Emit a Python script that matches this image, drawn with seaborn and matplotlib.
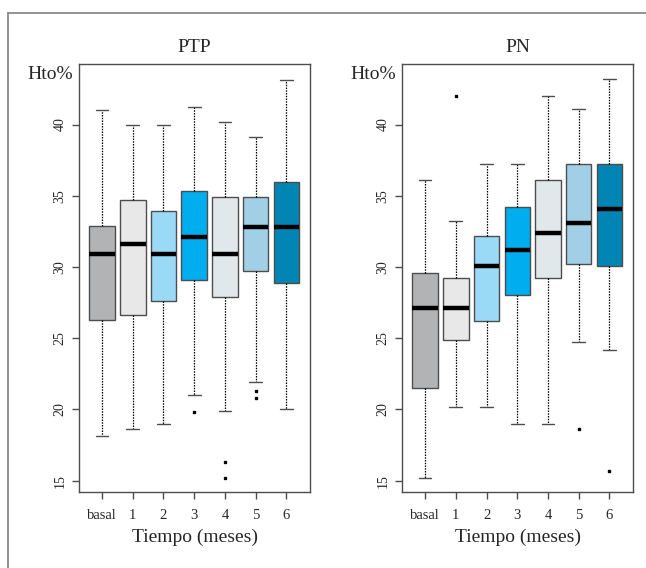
import pandas as pd
import matplotlib
matplotlib.use('Agg')
import matplotlib.pyplot as plt
import seaborn as sns
import numpy as np

# categories (months)
meses = ['basal', '1', '2', '3', '4', '5', '6']
colores = ['#b1b3b5', '#e8e8e8', '#9bdaf6', '#00aeef', '#e1e8ec', '#a0cfe6', '#0085b4']

# PTP five-number summaries
ptp_lo = [18.1, 18.6, 19.0, 21.0, 19.9, 21.9, 20.0]
ptp_q1 = [26.3, 26.6, 27.6, 29.1, 27.9, 29.7, 28.9]
ptp_med = [30.9, 31.6, 30.9, 32.1, 30.9, 32.8, 32.8]
ptp_q3 = [32.9, 34.7, 33.9, 35.3, 34.9, 34.9, 36.0]
ptp_hi = [41.0, 40.0, 40.0, 41.2, 40.2, 39.1, 43.1]
ptp_out = [[], [], [], [19.8], [16.3, 15.2], [21.3, 20.8], []]

# PN
pn_lo = [15.2, 20.2, 20.2, 19.0, 19.0, 24.7, 24.2]
pn_q1 = [21.5, 24.9, 26.2, 28.0, 29.2, 30.2, 30.1]
pn_med = [27.1, 27.1, 30.1, 31.2, 32.4, 33.1, 34.1]
pn_q3 = [29.6, 29.2, 32.2, 34.2, 36.1, 37.2, 37.2]
pn_hi = [36.1, 33.2, 37.2, 37.2, 42.0, 41.1, 43.2]
pn_out = [[], [42.0], [], [], [], [18.6], [15.7]]


def expand(lo, q1, med, q3, hi, out):
    # rebuild a sample whose quartiles/whiskers equal the read summary
    o_lo = sorted([v for v in out if v < med])
    o_hi = sorted([v for v in out if v > med])
    L = len(o_lo) + 1
    H = len(o_hi) + 1
    k = max(L, H)
    return o_lo + [lo] + [q1] * (k - L + 1) + [med] * k + [q3] * k + [hi] * (k - len(o_hi)) + o_hi


def build(lo, q1, med, q3, hi, out):
    rows = []
    for i, m in enumerate(meses):
        for v in expand(lo[i], q1[i], med[i], q3[i], hi[i], out[i]):
            rows.append({'mes': m, 'hto': v})
    return pd.DataFrame(rows)


df_ptp = build(ptp_lo, ptp_q1, ptp_med, ptp_q3, ptp_hi, ptp_out)
df_pn = build(pn_lo, pn_q1, pn_med, pn_q3, pn_hi, pn_out)

sns.set_style('white')
plt.rcParams['font.family'] = ['Liberation Serif', 'DejaVu Serif']

fig = plt.figure(figsize=(6.46, 5.68), dpi=100)
ax1 = fig.add_axes([0.1223, 0.1338, 0.3576, 0.7535])
ax2 = fig.add_axes([0.6223, 0.1338, 0.3578, 0.7535])

# outer frame (top and left only visible)
fig.add_artist(plt.Line2D([8/646, 8/646], [0, 1 - 13/568], color='#808080', lw=1.2))
fig.add_artist(plt.Line2D([8/646, 1], [1 - 13/568, 1 - 13/568], color='#808080', lw=1.2))

for ax, df, titulo in [(ax1, df_ptp, 'PTP'), (ax2, df_pn, 'PN')]:
    sns.boxplot(data=df, x='mes', y='hto', hue='mes', order=meses, hue_order=meses,
                palette=colores, saturation=1, legend=False, width=0.83, whis=1.5,
                linecolor='#4d4d4d', linewidth=1.0, fliersize=2.0, ax=ax,
                medianprops={'color': 'black', 'linewidth': 3.2, 'solid_capstyle': 'butt'},
                whiskerprops={'color': 'black', 'linestyle': (0, (1.2, 1.0)), 'linewidth': 0.9},
                capprops={'color': '#4d4d4d', 'linewidth': 1.0},
                flierprops={'marker': 's', 'markersize': 2.0, 'markerfacecolor': 'black',
                            'markeredgecolor': 'black'})
    ax.set_xlim(-0.75, 6.77)
    ax.set_ylim(14.2, 44.25)
    ax.set_yticks([15, 20, 25, 30, 35, 40])
    ax.set_yticklabels(['15', '20', '25', '30', '35', '40'], rotation=90, va='center')
    for s in ax.spines.values():
        s.set_visible(True)
        s.set_color('#4d4d4d')
        s.set_linewidth(1.0)
    ax.tick_params(axis='y', direction='out', length=5, width=1, color='#4d4d4d',
                   labelsize=10, pad=4, left=True)
    ax.tick_params(axis='x', direction='out', length=5, width=1, color='#4d4d4d',
                   labelsize=10.5, pad=7, bottom=True)
    ax.set_ylabel('')
    ax.set_xlabel('Tiempo (meses)', fontsize=14, labelpad=5)
    ax.set_title(titulo, fontsize=14, pad=8.5)
    ax.text(-0.025, 0.975, 'Hto%', transform=ax.transAxes, ha='right', va='center', fontsize=14)

fig.savefig('out.png', dpi=100)
